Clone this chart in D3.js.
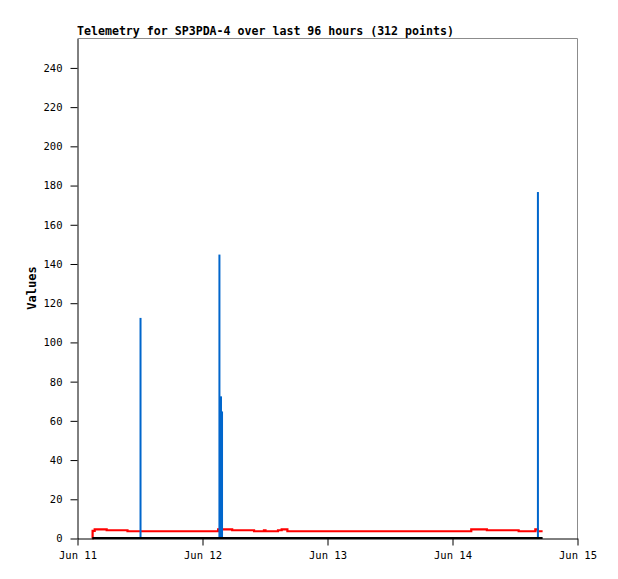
<!DOCTYPE html>
<html>
<head>
<meta charset="utf-8">
<script src="https://cdn.jsdelivr.net/npm/d3@7"></script>
<style>
  html, body { margin: 0; padding: 0; background: #fff; }
  svg { display: block; }
</style>
</head>
<body>
<svg id="chart" width="618" height="579"></svg>
<script>
// ---- data (hours since Jun 11 00:00 UTC) ----
const titleText = "Telemetry for SP3PDA-4 over last 96 hours (312 points)";
const yLabel = "Values";
const xTickDates = ["2024-06-11", "2024-06-12", "2024-06-13", "2024-06-14", "2024-06-15"];
const yTicks = [0, 20, 40, 60, 80, 100, 120, 140, 160, 180, 200, 220, 240];

// red series (stepped)
const redHours  = [2.85, 2.9, 3.3, 5.6, 9.6, 27.0, 29.7, 33.9, 35.8, 36.1, 38.5, 39.2, 40.3, 75.6, 78.6, 84.7, 87.9, 88.4, 89.3];
const redValues = [0,    3.9, 4.7, 4.2, 3.7, 4.7,  4.2,  3.7,  4.2,  3.7,  4.2,  4.7,  3.7,  4.7,  4.2,  3.7,  4.7,  3.7,  3.7];

// blue series (spikes)
const blueHours  = [12.1, 27.25, 27.55, 27.75, 88.4];
const blueValues = [112.5, 144.8, 72.5, 64.8, 176.7];

// black series (zero line)
const blackHours  = [2.85, 89.3];
const blackValues = [0, 0];

(function () {
// ---- layout ----
const svg = d3.select("#chart");
const mLeft = 77.5, mRight = 577.5, mTop = 38.5, mBottom = 538.5;
const t0 = Date.UTC(2024, 5, 11);
const toDate = h => new Date(t0 + h * 3600 * 1000);

const x = d3.scaleUtc()
  .domain([new Date(xTickDates[0] + "T00:00:00Z"), new Date(xTickDates[xTickDates.length - 1] + "T00:00:00Z")])
  .range([mLeft, mRight]);
const y = d3.scaleLinear().domain([0, 255]).range([mBottom, mTop]);

const mono = "'DejaVu Sans Mono', 'Liberation Mono', monospace";

// frame (top & right grey)
svg.append("path")
  .attr("d", `M${mLeft},${mTop}H${mRight}V${mBottom}`)
  .attr("fill", "none").attr("stroke", "#8c8c8c").attr("stroke-width", 1);

// red line
const redData = redHours.map((h, i) => ({ t: toDate(h), v: redValues[i] }));
svg.append("path")
  .datum(redData)
  .attr("fill", "none")
  .attr("stroke", "#ff0000")
  .attr("stroke-width", 2.2)
  .attr("d", d3.line().x(d => x(d.t)).y(d => y(d.v)).curve(d3.curveStepAfter));

// blue spikes
const blueData = blueHours.map((h, i) => ({ t: toDate(h), v: blueValues[i] }));
svg.selectAll("rect.blue")
  .data(blueData)
  .join("rect")
  .attr("class", "blue")
  .attr("x", d => x(d.t) - 1)
  .attr("width", 2)
  .attr("y", d => y(d.v))
  .attr("height", d => y(0) - y(d.v))
  .attr("fill", "#0066cc");

// black zero series
const blackData = blackHours.map((h, i) => ({ t: toDate(h), v: blackValues[i] }));
svg.append("path")
  .datum(blackData)
  .attr("fill", "none")
  .attr("stroke", "#000")
  .attr("stroke-width", 2)
  .attr("d", d3.line().x(d => x(d.t)).y(d => y(d.v) - 0.5));

// axes
const xAxis = d3.axisBottom(x)
  .tickValues(xTickDates.map(s => new Date(s + "T00:00:00Z")))
  .tickFormat(d3.utcFormat("%b %d"))
  .tickSize(7).tickSizeOuter(0).tickPadding(6);
const gx = svg.append("g").attr("transform", `translate(0,${mBottom})`).call(xAxis);

const yAxis = d3.axisLeft(y)
  .tickValues(yTicks)
  .tickSize(7).tickSizeOuter(0).tickPadding(8);
const gy = svg.append("g").attr("transform", `translate(${mLeft},0)`).call(yAxis);

[gx, gy].forEach(g => {
  g.selectAll("path.domain").attr("stroke", "#000");
  g.selectAll(".tick line").attr("stroke", "#000");
  g.selectAll("text").attr("font-family", mono).attr("font-size", "10.5px").attr("fill", "#000");
});

// title
svg.append("text")
  .attr("x", 77).attr("y", 35)
  .attr("font-family", mono).attr("font-weight", "bold")
  .attr("font-size", "11.6px")
  .attr("fill", "#000")
  .text(titleText);

// y label
svg.append("text")
  .attr("transform", `translate(36,288) rotate(-90)`)
  .attr("text-anchor", "middle")
  .attr("font-family", mono).attr("font-weight", "bold")
  .attr("font-size", "12px")
  .attr("fill", "#000")
  .text(yLabel);
})();
</script>
</body>
</html>
